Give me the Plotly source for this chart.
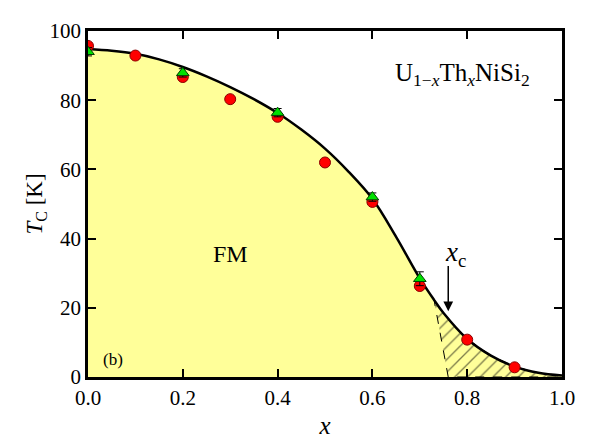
import plotly.graph_objects as go

# Phase boundary curve
curve_x = [0.0, 0.05, 0.1, 0.15, 0.2, 0.25, 0.3, 0.35, 0.4, 0.45, 0.5, 0.55, 0.6,
           0.65, 0.7, 0.73, 0.75, 0.8, 0.85, 0.9, 0.95, 1.0]
curve_t = [94.8, 94.3, 93.4, 91.8, 89.6, 86.9, 83.8, 80.3, 76.3, 71.5, 66.0, 59.3, 51.5,
           40.5, 28.5, 22.3, 18.5, 11.0, 6.2, 3.0, 1.2, 0.4]

# Red circles
circ_x = [0.0, 0.1, 0.2, 0.3, 0.4, 0.5, 0.6, 0.7, 0.8, 0.9]
circ_t = [95.7, 92.9, 86.7, 80.3, 75.2, 62.0, 50.6, 26.3, 10.8, 2.8]

# Green triangles
tri_x = [0.0, 0.2, 0.4, 0.6, 0.7]
tri_t = [94.0, 87.9, 76.4, 52.0, 28.4]
tri_err = [1.2, 1.2, 1.2, 1.2, 2.0]

# Hatched (beyond x_c) region boundaries and x_c marker
hatch_start_x = 0.73
hatch_bottom_x = 0.76
xc_x = 0.76

xtick_vals = [0.0, 0.2, 0.4, 0.6, 0.8, 1.0]
xtick_text = ["0.0", "0.2", "0.4", "0.6", "0.8", "1.0"]
ytick_vals = [0, 20, 40, 60, 80, 100]

FONT = "Liberation Serif"
YELLOW = "#FFFF99"

fig = go.Figure()

# yellow FM region
fig.add_trace(go.Scatter(x=curve_x, y=curve_t, mode="lines", fill="tozeroy",
                         line_shape="spline",
                         fillcolor=YELLOW, line=dict(width=0), hoverinfo="skip",
                         showlegend=False))

# hatched region polygon
hx = [x for x in curve_x if x >= hatch_start_x]
ht = [t for x, t in zip(curve_x, curve_t) if x >= hatch_start_x]
poly_x = hx + [curve_x[-1], hatch_bottom_x, hx[0]]
poly_y = ht + [0, 0, ht[0]]
fig.add_trace(go.Scatter(x=poly_x, y=poly_y, mode="lines", fill="toself",
                         fillcolor=YELLOW,
                         fillpattern=dict(shape="/", fgcolor="black", bgcolor=YELLOW,
                                          size=9, solidity=0.15),
                         line=dict(color="black", width=1, dash="dash"),
                         hoverinfo="skip", showlegend=False))

# curve
fig.add_trace(go.Scatter(x=curve_x, y=curve_t, mode="lines", line_shape="spline",
                         line=dict(color="black", width=2.5), showlegend=False))

# red circles
fig.add_trace(go.Scatter(x=circ_x, y=circ_t, mode="markers",
                         marker=dict(symbol="circle", size=11, color="#FF0000",
                                     line=dict(color="#8B0000", width=1)),
                         showlegend=False))

# green triangles
fig.add_trace(go.Scatter(x=tri_x, y=tri_t, mode="markers",
                         error_y=dict(type="data", array=tri_err, color="black",
                                      thickness=1, width=4),
                         marker=dict(symbol="triangle-up", size=11, color="#00E000",
                                     line=dict(color="#004000", width=1)),
                         showlegend=False))

annotations = [
    dict(x=0.3, y=35.5, xref="x", yref="y", text="FM", showarrow=False,
         font=dict(family=FONT, size=24, color="black")),
    dict(x=0.052, y=5.2, xref="x", yref="y", text="(b)", showarrow=False,
         font=dict(family=FONT, size=17, color="black")),
    dict(x=0.79, y=87.5, xref="x", yref="y",
         text="U<sub>1−<i>x</i></sub>Th<sub><i>x</i></sub>NiSi<sub>2</sub>",
         showarrow=False, font=dict(family=FONT, size=25, color="black")),
    dict(x=0.775, y=35.5, xref="x", yref="y", text="<i>x</i><sub>c</sub>",
         showarrow=False, font=dict(family=FONT, size=27, color="black")),
    dict(x=xc_x, y=19, xref="x", yref="y", ax=xc_x, ay=32.5, axref="x", ayref="y",
         text="", showarrow=True, arrowhead=2, arrowsize=1.3, arrowwidth=1.5,
         arrowcolor="black"),
]

axis_common = dict(showline=True, linecolor="black", linewidth=2.5, mirror="allticks",
                   ticks="inside", ticklen=8, tickwidth=2, tickcolor="black",
                   showgrid=False, zeroline=False,
                   tickfont=dict(family=FONT, size=21, color="black"))

fig.update_layout(
    width=606, height=441,
    margin=dict(l=80, r=52, t=11, b=72),
    paper_bgcolor="white", plot_bgcolor="white",
    xaxis=dict(range=[0, 1], tickvals=xtick_vals, ticktext=xtick_text,
               title=dict(text="<i>x</i>", font=dict(family=FONT, size=25, color="black"),
                          standoff=8),
               **axis_common),
    yaxis=dict(range=[0, 100], tickvals=ytick_vals,
               title=dict(text="<i>T</i><sub>C</sub> [K]",
                          font=dict(family=FONT, size=23, color="black"), standoff=1),
               **axis_common),
    annotations=annotations,
)

fig.write_html("out.html")
